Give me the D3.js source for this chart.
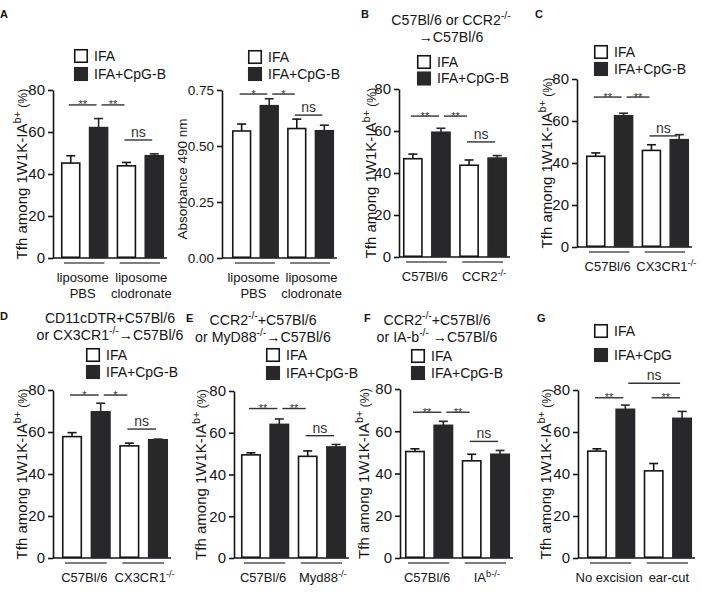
<!DOCTYPE html>
<html><head><meta charset="utf-8">
<script src="https://cdn.jsdelivr.net/npm/d3@7"></script>
<style>body{margin:0;background:#fff}svg{display:block}</style>
</head><body>
<svg id="chart" width="702" height="595"></svg>
<script>
// ---------------- DATA ----------------
const legendCpGB = ["IFA", "IFA+CpG-B"];
const legendCpG = ["IFA", "IFA+CpG"];
const ticksPct = [0, 20, 40, 60, 80];
const ticksAbs = [0, 0.25, 0.5, 0.75];
const yLabelTfh = "Tfh among 1W1K-IA^{b+}_{ (%)}";
const yLabelAbs = "Absorbance 490 nm";

const catsA = [["liposome", "PBS"], ["liposome", "clodronate"]];
const catsB = [["C57Bl/6"], ["CCR2^{-/-}"]];
const catsC = [["C57Bl/6"], ["CX3CR1^{-/-}"]];
const catsD = [["C57Bl/6"], ["CX3CR1^{-/-}"]];
const catsE = [["C57Bl/6"], ["Myd88^{-/-}"]];
const catsF = [["C57Bl/6"], ["IA^{b-/-}"]];
const catsG = [["No excision"], ["ear-cut"]];

const titleB = ["C57Bl/6 or CCR2^{-/-}", "→C57Bl/6"];
const titleD = ["CD11cDTR+C57Bl/6", "or CX3CR1^{-/-}→C57Bl/6"];
const titleE = ["CCR2^{-/-}+C57Bl/6", "or MyD88^{-/-}→C57Bl/6"];
const titleF = ["CCR2^{-/-}+C57Bl/6", "or IA-b^{-/-} →C57Bl/6"];

// series values: [group1, group2]
const A1_IFA = [45.2, 43.9], A1_IFA_SEM = [3.5, 1.6];
const A1_CPG = [62.1, 48.7], A1_CPG_SEM = [4.3, 0.9];
const A2_IFA = [0.567, 0.578], A2_IFA_SEM = [0.031, 0.042];
const A2_CPG = [0.680, 0.568], A2_CPG_SEM = [0.031, 0.025];
const B_IFA = [46.8, 43.7], B_IFA_SEM = [2.2, 2.5];
const B_CPG = [59.4, 47.1], B_CPG_SEM = [1.9, 1.2];
const C_IFA = [43.2, 46.0], C_IFA_SEM = [1.6, 2.7];
const C_CPG = [62.5, 51.1], C_CPG_SEM = [1.2, 2.4];
const D_IFA = [57.8, 53.4], D_IFA_SEM = [1.9, 1.3];
const D_CPG = [69.6, 56.3], D_CPG_SEM = [4.1, 0.3];
const E_IFA = [49.4, 48.7], E_IFA_SEM = [1.0, 2.6];
const E_CPG = [64.0, 53.2], E_CPG_SEM = [2.6, 1.2];
const F_IFA = [50.4, 46.0], F_IFA_SEM = [1.3, 3.1];
const F_CPG = [62.8, 49.1], F_CPG_SEM = [1.9, 1.8];
const G_IFA = [50.9, 41.5], G_IFA_SEM = [1.1, 3.5];
const G_CPG = [70.8, 66.5], G_CPG_SEM = [2.0, 3.3];

// significance: [bar from, bar to, label, level (data units)]
const sigA1 = [[0, 1, "**", 72.9], [1, 2, "**", 72.9], [2, 3, "ns", 56.2]];
const sigA2 = [[0, 1, "*", 0.732], [1, 2, "*", 0.732], [2, 3, "ns", 0.638]];
const sigB = [[0, 1, "**", 67.1], [1, 2, "**", 67.1], [2, 3, "ns", 54.8]];
const sigC = [[0, 1, "**", 71.4], [1, 2, "**", 71.4], [2, 3, "ns", 52.9]];
const sigD = [[0, 1, "*", 77.6], [1, 2, "*", 77.6], [2, 3, "ns", 61.4]];
const sigE = [[0, 1, "**", 71.6], [1, 2, "**", 71.6], [2, 3, "ns", 58.6]];
const sigF = [[0, 1, "**", 69.0], [1, 2, "**", 69.0], [2, 3, "ns", 55.2]];
const sigG = [[0, 1, "**", 76.3], [2, 3, "**", 76.3], [1, 3, "ns", 83.2]];

// ---------------- DRAWING ----------------
const FONT = "'Liberation Sans', Arial, Helvetica, sans-serif";
const DARK = "#28282a";
const INK = "#151515";
const svg = d3.select("#chart").attr("font-family", FONT);

function rich(textSel, str, fs) {
  const parts = str.split(/(\^\{[^}]*\}|_\{[^}]*\})/).filter(s => s.length);
  let raised = false;
  parts.forEach(p => {
    const sup = p.match(/^\^\{([^}]*)\}$/);
    const small = p.match(/^_\{([^}]*)\}$/);
    const t = textSel.append("tspan");
    if (sup) {
      t.text(sup[1]).attr("font-size", fs * 0.72).attr("dy", raised ? 0 : -fs * 0.42);
      raised = true;
    } else {
      t.text(small ? small[1] : p).attr("font-size", small ? fs * 0.82 : fs);
      if (raised) { t.attr("dy", fs * 0.42); raised = false; }
    }
  });
}

function interleave(a, b) { return [a[0], b[0], a[1], b[1]]; }

function drawPanel(p) {
  const g = svg.append("g");
  const vals = interleave(p.ifa, p.cpg);
  const sems = interleave(p.ifaSem, p.cpgSem);
  const y = d3.scaleLinear().domain([0, p.ymax]).range([p.bot, p.top]);
  const x = d3.scaleBand().domain(d3.range(4)).range([p.b0, p.b1]).paddingInner(0.3).paddingOuter(0);
  const bw = x.bandwidth();

  // y axis
  const ax = g.append("g").attr("transform", `translate(${p.ax},0)`)
    .call(d3.axisLeft(y).tickValues(p.ticks).tickSize(5).tickSizeOuter(0).tickPadding(3).tickFormat(p.fmt));
  ax.selectAll("path.domain").attr("stroke", INK).attr("stroke-width", 1.6);
  ax.selectAll(".tick line").attr("stroke", INK).attr("stroke-width", 1.6);
  ax.selectAll(".tick text").attr("font-size", p.tickFs).attr("font-family", FONT).attr("fill", INK);
  // baseline
  g.append("line").attr("x1", p.ax).attr("x2", p.b1 + 3).attr("y1", y(0)).attr("y2", y(0))
    .attr("stroke", INK).attr("stroke-width", 1.6);

  // bars
  g.selectAll("rect.bar").data(vals).join("rect").attr("class", "bar")
    .attr("x", (d, i) => x(i) + 0.75).attr("width", bw - 1.5)
    .attr("y", d => y(d)).attr("height", d => y(0) - y(d) - 0.75)
    .attr("fill", (d, i) => i % 2 ? DARK : "#fff")
    .attr("stroke", (d, i) => i % 2 ? DARK : INK).attr("stroke-width", 1.6);
  // error bars
  vals.forEach((v, i) => {
    const cx = x(i) + bw / 2, c = i % 2 ? DARK : INK;
    g.append("line").attr("x1", cx).attr("x2", cx).attr("y1", y(v)).attr("y2", y(v + sems[i]))
      .attr("stroke", c).attr("stroke-width", 1.6);
    g.append("line").attr("x1", cx - 4.5).attr("x2", cx + 4.5).attr("y1", y(v + sems[i])).attr("y2", y(v + sems[i]))
      .attr("stroke", c).attr("stroke-width", 1.6);
  });

  // group underlines + category labels
  [0, 1].forEach(k => {
    const xa = x(2 * k) + 3, xb = x(2 * k + 1) + bw - 4;
    g.append("line").attr("x1", xa).attr("x2", xb).attr("y1", y(0) + 5).attr("y2", y(0) + 5)
      .attr("stroke", "#555").attr("stroke-width", 1.4);
    const cx = (x(2 * k) + x(2 * k + 1) + bw) / 2 + (k === 0 ? -2 : 1);
    p.cats[k].forEach((line, li) => {
      const t = g.append("text").attr("x", cx).attr("y", y(0) + 24 + li * 15.5)
        .attr("text-anchor", "middle").attr("fill", INK);
      rich(t, line, 13);
    });
  });

  // significance
  p.sig.forEach(([a, b, lab, lev]) => {
    const x1 = x(a) + bw / 2 + (a % 2 ? 3 : -2), x2 = x(b) + bw / 2 - 2;
    const yy = y(lev);
    g.append("line").attr("x1", x1).attr("x2", x2).attr("y1", yy).attr("y2", yy)
      .attr("stroke", "#333").attr("stroke-width", 1.4);
    const star = lab !== "ns";
    g.append("text").attr("x", (x1 + x2) / 2).attr("y", star ? yy + 3.5 : yy - 3)
      .attr("text-anchor", "middle").attr("font-size", star ? 11 : 14).attr("fill", "#333").text(lab);
  });

  // legend
  p.legendLabels.forEach((lab, i) => {
    const ly = p.leg[1] + i * p.leg[2];
    g.append("rect").attr("x", p.leg[0] + 0.75).attr("y", ly + 0.75).attr("width", 12.5).attr("height", 12.5)
      .attr("fill", i ? DARK : "#fff").attr("stroke", i ? DARK : INK).attr("stroke-width", 1.6);
    g.append("text").attr("x", p.leg[0] + 20).attr("y", ly + 11.5).attr("font-size", 14).attr("fill", INK).text(lab);
  });

  // y label
  const yl = g.append("text").attr("transform", `translate(${p.ylx},${(p.top + p.bot) / 2 + p.yldy}) rotate(-90)`)
    .attr("text-anchor", "middle").attr("fill", INK);
  rich(yl, p.ylab, p.ylabFs);

  // title
  if (p.title) {
    p.title.forEach((line, li) => {
      const t = g.append("text").attr("x", p.titleX).attr("y", p.titleY + li * 17)
        .attr("text-anchor", "middle").attr("fill", INK);
      rich(t, line, 14.2);
    });
  }
  // panel letter
  if (p.letter) {
    g.append("text").attr("x", p.letterPos[0]).attr("y", p.letterPos[1]).attr("font-size", 11)
      .attr("font-weight", "bold").attr("fill", INK).text(p.letter);
  }
}

const fmtInt = d3.format("d"), fmtAbs = d3.format(".2f");
const base = { ymax: 80, ticks: ticksPct, fmt: fmtInt, tickFs: 15, ylab: yLabelTfh, ylabFs: 15, yldy: 0, legendLabels: legendCpGB };

const panels = [
  { ...base, letter: "A", letterPos: [0, 18], ax: 53, top: 90, bot: 258, b0: 61, b1: 164,
    ifa: A1_IFA, ifaSem: A1_IFA_SEM, cpg: A1_CPG, cpgSem: A1_CPG_SEM, sig: sigA1, cats: catsA,
    leg: [74, 49, 18], ylx: 27 },
  { ...base, ymax: 0.75, ticks: ticksAbs, fmt: fmtAbs, tickFs: 13.5, ylab: yLabelAbs, ylabFs: 13.5, yldy: 5,
    ax: 222, top: 90, bot: 258, b0: 232, b1: 334,
    ifa: A2_IFA, ifaSem: A2_IFA_SEM, cpg: A2_CPG, cpgSem: A2_CPG_SEM, sig: sigA2, cats: catsA,
    leg: [248, 50, 17], ylx: 187 },
  { ...base, letter: "B", letterPos: [361, 18], ax: 399, top: 89, bot: 257, b0: 403, b1: 507,
    ifa: B_IFA, ifaSem: B_IFA_SEM, cpg: B_CPG, cpgSem: B_CPG_SEM, sig: sigB, cats: catsB,
    leg: [417, 55, 16.5], ylx: 376, title: titleB, titleX: 451, titleY: 25 },
  { ...base, letter: "C", letterPos: [535, 18], ax: 577, top: 79, bot: 247, b0: 586, b1: 689,
    ifa: C_IFA, ifaSem: C_IFA_SEM, cpg: C_CPG, cpgSem: C_CPG_SEM, sig: sigC, cats: catsC,
    leg: [594, 45, 17], ylx: 552 },
  { ...base, letter: "D", letterPos: [0, 320], ax: 53, top: 390, bot: 558, b0: 62, b1: 168,
    ifa: D_IFA, ifaSem: D_IFA_SEM, cpg: D_CPG, cpgSem: D_CPG_SEM, sig: sigD, cats: catsD,
    leg: [86, 348, 17], ylx: 27, title: titleD, titleX: 110, titleY: 323 },
  { ...base, letter: "E", letterPos: [186, 322], ax: 234, top: 391, bot: 558, b0: 241, b1: 346,
    ifa: E_IFA, ifaSem: E_IFA_SEM, cpg: E_CPG, cpgSem: E_CPG_SEM, sig: sigE, cats: catsE,
    leg: [266, 348, 18], ylx: 206, title: titleE, titleX: 263, titleY: 325 },
  { ...base, letter: "F", letterPos: [364, 322], ax: 400, top: 389, bot: 558, b0: 405, b1: 510,
    ifa: F_IFA, ifaSem: F_IFA_SEM, cpg: F_CPG, cpgSem: F_CPG_SEM, sig: sigF, cats: catsF,
    leg: [411, 349, 17], ylx: 369, title: titleF, titleX: 437, titleY: 325 },
  { ...base, letter: "G", letterPos: [537, 322], ax: 578, top: 390, bot: 558, b0: 587, b1: 692,
    ifa: G_IFA, ifaSem: G_IFA_SEM, cpg: G_CPG, cpgSem: G_CPG_SEM, sig: sigG, cats: catsG,
    legendLabels: legendCpG, leg: [594, 324, 24], ylx: 551 }
];
panels.forEach(drawPanel);
</script>
</body></html>
